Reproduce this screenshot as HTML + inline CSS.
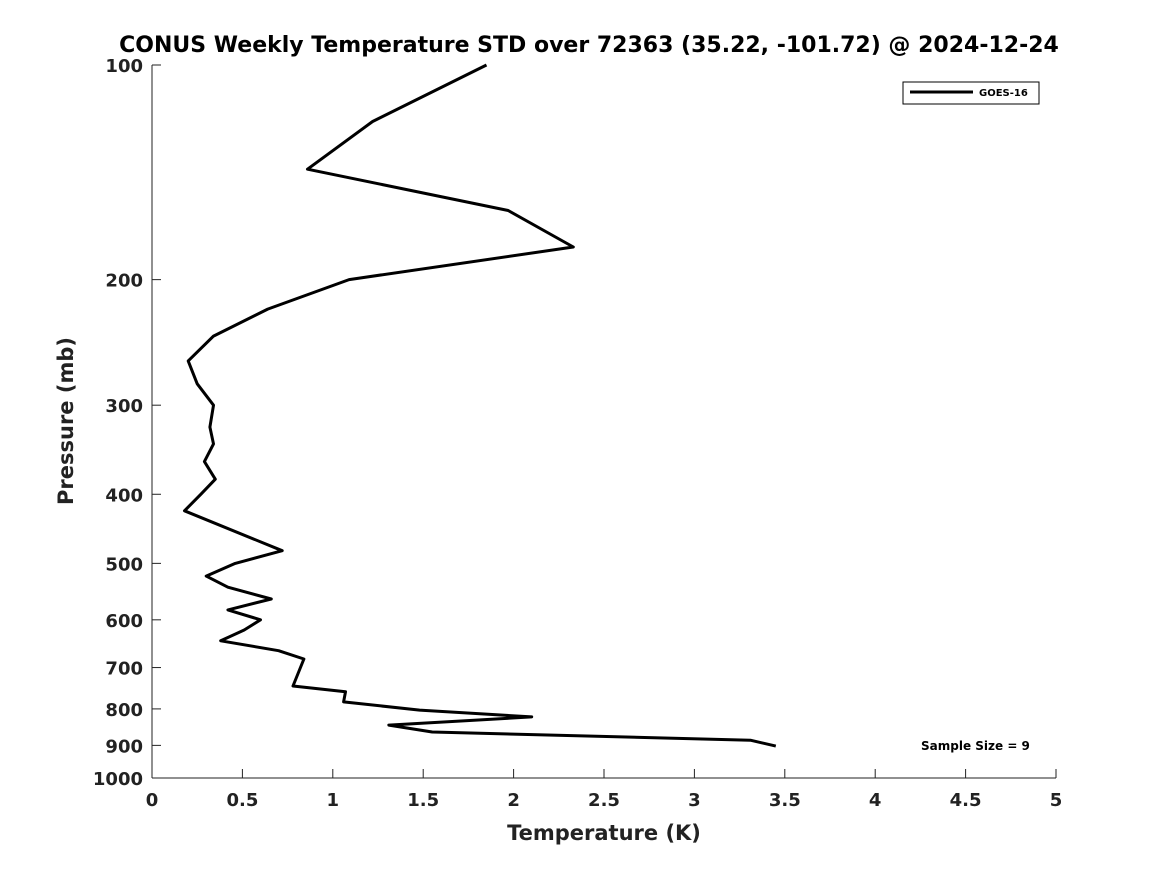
<!DOCTYPE html>
<html><head><meta charset="utf-8"><style>
body{margin:0;background:#fff;}
svg text{font-family:"DejaVu Sans","Liberation Sans",sans-serif;font-weight:bold;fill:#222;}
</style></head><body>
<svg id="chart" width="1167" height="875" xmlns="http://www.w3.org/2000/svg">
<rect width="1167" height="875" fill="#fff"/>
<text x="589" y="52" text-anchor="middle" font-size="22" style="fill:#000">CONUS Weekly Temperature STD over 72363 (35.22, -101.72) @ 2024-12-24</text>
<g id="axes"></g>
<path id="series" fill="none" stroke="#000" stroke-width="3" stroke-linejoin="round"/>
<g>
<rect x="903" y="82" width="136" height="22" fill="#fff" stroke="#000" stroke-width="1"/>
<line x1="910" y1="92" x2="973" y2="92" stroke="#000" stroke-width="3"/>
<text x="979" y="96" font-size="10" style="fill:#000">GOES-16</text>
</g>
<text x="921" y="750" font-size="12" style="fill:#000">Sample Size = 9</text>
<text x="604" y="840" text-anchor="middle" font-size="21">Temperature (K)</text>
<text transform="translate(73,421) rotate(-90)" text-anchor="middle" font-size="21">Pressure (mb)</text>
</svg>
<script>
const temps=[1.85,1.22,0.86,1.97,2.33,1.09,0.64,0.34,0.20,0.25,0.34,0.32,0.34,0.29,0.35,0.27,0.18,0.72,0.46,0.30,0.42,0.66,0.42,0.60,0.51,0.38,0.70,0.84,0.78,1.07,1.06,1.48,2.10,1.31,1.55,3.31,3.45];
const pressures=[100,120,140,160,180,200,220,240,260,280,300,322,340,360,381,400,422,480,500,521,540,561,581,600,620,642,663,681,743,757,782,803,821,843,862,885,902];
const xTicks=[0,0.5,1,1.5,2,2.5,3,3.5,4,4.5,5];
const xTickLabels=["0","0.5","1","1.5","2","2.5","3","3.5","4","4.5","5"];
const yTicks=[100,200,300,400,500,600,700,800,900,1000];
const X0=152,X1=1056,Y0=65,Y1=778;
function xs(t){return X0+(t-0)/(5-0)*(X1-X0);}
function ys(p){return Y0+(Math.log10(p)-2)/(3-2)*(Y1-Y0);}
const NS="http://www.w3.org/2000/svg";
const ax=document.getElementById('axes');
function mk(tag,attrs,txt){const e=document.createElementNS(NS,tag);for(const k in attrs)e.setAttribute(k,attrs[k]);if(txt!==undefined)e.textContent=txt;ax.appendChild(e);return e;}
let e=mk('line',{x1:X0,y1:Y0,x2:X0,y2:Y1,stroke:'#222','stroke-width':1});


e=mk('line',{x1:X0,y1:Y1,x2:X1,y2:Y1,stroke:'#222','stroke-width':1});


xTicks.forEach((t,i)=>{
 const x=xs(t);
 let l=mk('line',{x1:x,y1:Y1,x2:x,y2:Y1-9,stroke:'#222'});
 
 
 let tx=mk('text',{x:x,y:Y1+28,'text-anchor':'middle','font-size':18},xTickLabels[i]);
 
 
});
yTicks.forEach(p=>{
 const y=ys(p);
 let l=mk('line',{x1:X0,y1:y,x2:X0+9,y2:y,stroke:'#222'});
 
 
 let tx=mk('text',{x:X0-9,y:y+7,'text-anchor':'end','font-size':18},String(p));
 
 
});
document.getElementById('series').setAttribute('d',temps.map((t,i)=>(i?'L':'M')+xs(t).toFixed(1)+' '+ys(pressures[i]).toFixed(1)).join(' '));
</script>
</body></html>
